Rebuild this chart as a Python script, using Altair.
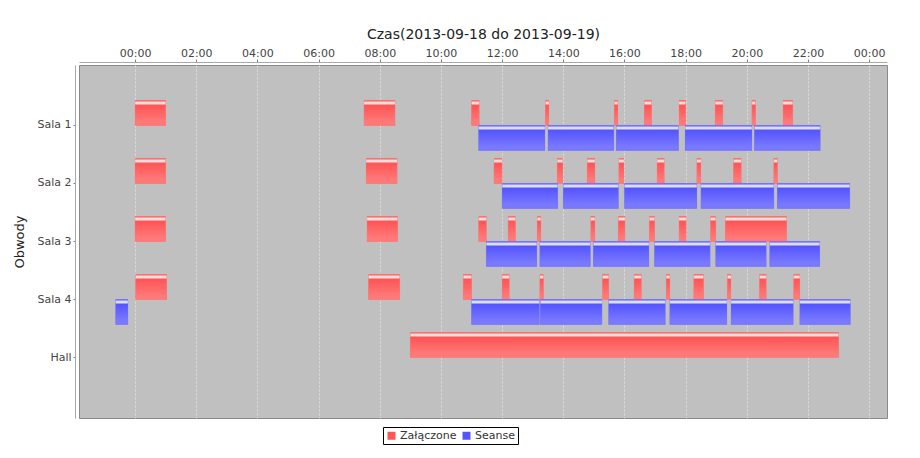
import altair as alt
import pandas as pd

categories = ["Sala 1", "Sala 2", "Sala 3", "Sala 4", "Hall"]
series_names = ["Załączone", "Seanse"]
series_colors = ["#FF5555", "#5555FF"]
tick_hours = [0, 2, 4, 6, 8, 10, 12, 14, 16, 18, 20, 22, 24]

sala1_on = [("00:00", "01:00"), ("07:29", "08:30"), ("11:00", "11:15"), ("13:25", "13:32"),
            ("15:40", "15:47"), ("16:39", "16:53"), ("17:47", "18:00"), ("18:58", "19:13"),
            ("20:10", "20:17"), ("21:11", "21:30")]
sala1_show = [("11:14", "13:24"), ("13:30", "15:39"), ("15:44", "17:46"), ("17:59", "20:10"),
              ("20:15", "22:24")]

sala2_on = [("00:00", "01:00"), ("07:33", "08:34"), ("11:44", "12:00"), ("13:48", "13:59"),
            ("14:47", "15:02"), ("15:49", "15:59"), ("17:04", "17:18"), ("18:22", "18:30"),
            ("19:34", "19:49"), ("20:53", "21:00")]
sala2_show = [("12:00", "13:49"), ("14:00", "15:48"), ("16:00", "18:22"), ("18:30", "20:53"),
              ("21:00", "23:22")]

sala3_on = [("00:00", "01:00"), ("07:35", "08:35"), ("11:14", "11:29"), ("12:12", "12:26"),
            ("13:09", "13:16"), ("14:54", "15:02"), ("15:48", "16:01"), ("16:49", "16:59"),
            ("17:47", "18:01"), ("18:49", "18:59"), ("19:18", "21:18")]
sala3_show = [("11:29", "13:08"), ("13:14", "14:53"), ("14:59", "16:48"), ("16:59", "18:48"),
              ("18:59", "20:38"), ("20:45", "22:23")]

sala4_on = [("00:01", "01:02"), ("07:38", "08:39"), ("10:44", "11:00"), ("12:00", "12:14"),
            ("13:14", "13:21"), ("15:17", "15:29"), ("16:19", "16:33"), ("17:22", "17:29"),
            ("18:16", "18:35"), ("19:22", "19:29"), ("20:25", "20:38"), ("21:32", "21:44")]
sala4_show = [("2013-09-17T23:22", "2013-09-17T23:46"), ("11:00", "13:13"), ("13:15", "15:16"),
              ("15:29", "17:20"), ("17:29", "19:21"), ("19:29", "21:31"), ("21:44", "23:23")]

hall_on = [("09:00", "23:00")]


def full(t):
    return t if "T" in t else "2013-09-18T" + t + ":00"


rows = []
for cat, ser, pairs in [
    ("Sala 1", "Załączone", sala1_on), ("Sala 1", "Seanse", sala1_show),
    ("Sala 2", "Załączone", sala2_on), ("Sala 2", "Seanse", sala2_show),
    ("Sala 3", "Załączone", sala3_on), ("Sala 3", "Seanse", sala3_show),
    ("Sala 4", "Załączone", sala4_on), ("Sala 4", "Seanse", sala4_show),
    ("Hall", "Załączone", hall_on),
]:
    for s, e in pairs:
        rows.append({"obwod": cat, "seria": ser, "start": full(s), "end": full(e)})
df = pd.DataFrame(rows)


def dt(day, h, m=0):
    return alt.DateTime(year=2013, month=9, date=day, hours=h, minutes=m)


tick_values = [dt(18 + h // 24, h % 24) for h in tick_hours]

x_enc = alt.X(
    "start:T",
    scale=alt.Scale(domain=[dt(17, 22, 10), dt(19, 0, 35)], nice=False),
    axis=alt.Axis(
        orient="top", format="%H:%M", values=tick_values,
        title="Czas(2013-09-18 do 2013-09-19)", titleFontSize=14, titleFontWeight="normal",
        titleColor="#222222", titlePadding=6,
        labelFontSize=11, labelColor="#444444", labelPadding=1,
        offset=3, domainColor="#a8a8a8", domainWidth=1, tickColor="#808080", tickSize=3,
        grid=True, gridColor="#dedede", gridDash=[2, 2], gridWidth=1,
    ),
)
x2_enc = alt.X2("end:T")
y_enc = alt.Y(
    "obwod:N", sort=categories,
    scale=alt.Scale(domain=categories, paddingInner=0.138, paddingOuter=0.612),
    axis=alt.Axis(
        title="Obwody", titleFontSize=13, titleFontWeight="normal", titleColor="#222222",
        titlePadding=10, labelFontSize=11, labelColor="#444444", labelPadding=2,
        offset=4, domainColor="#a8a8a8", domainWidth=1, tickColor="#808080", tickSize=2,
        grid=False,
    ),
)
yoff_enc = alt.YOffset("seria:N", sort=series_names,
                       scale=alt.Scale(domain=series_names, paddingInner=0, paddingOuter=0))


def grad(c0, c1):
    return alt.LinearGradient(
        gradient="linear", x1=0, y1=0, x2=0, y2=1,
        stops=[
            alt.GradientStop(color=c0, offset=0),
            alt.GradientStop(color="#ffffff", offset=0.1),
            alt.GradientStop(color=c0, offset=0.2),
            alt.GradientStop(color=c1, offset=0.85),
            alt.GradientStop(color=c1, offset=1),
        ],
    )


base = alt.Chart(df)

legend_layer = base.mark_bar().encode(
    x=x_enc, x2=x2_enc, y=y_enc, yOffset=yoff_enc,
    color=alt.Color(
        "seria:N", sort=series_names,
        scale=alt.Scale(domain=series_names, range=series_colors),
        legend=alt.Legend(
            title=None, orient="none", legendX=304, legendY=362, direction="horizontal",
            columns=2, strokeColor="black", fillColor="white", padding=3,
            symbolType="square", symbolSize=64, symbolStrokeWidth=0,
            labelFontSize=11, labelColor="#333333", labelFont="DejaVu Sans",
            labelOffset=3, columnPadding=4,
        ),
    ),
)

red_layer = base.transform_filter(alt.datum.seria == "Załączone").mark_bar(
    color=grad("#FF5555", "#FF7979"), stroke="#ff8080", strokeWidth=0.5, strokeOpacity=0.6
).encode(x=x_enc, x2=x2_enc, y=y_enc, yOffset=yoff_enc)

blue_layer = base.transform_filter(alt.datum.seria == "Seanse").mark_bar(
    color=grad("#5555FF", "#7979FF"), stroke="#8080ff", strokeWidth=0.5, strokeOpacity=0.6
).encode(x=x_enc, x2=x2_enc, y=y_enc, yOffset=yoff_enc)

chart = alt.layer(legend_layer, red_layer, blue_layer).properties(
    width=808, height=353,
    autosize=alt.AutoSizeParams(type="none"),
    padding={"left": 79, "top": 65, "right": 33, "bottom": 40},
    background="white",
).configure(font="DejaVu Sans").configure_view(
    fill="#C0C0C0", stroke="#8a8a8a", strokeWidth=1
)

chart.save("out.html", embed_options={"renderer": "svg", "actions": False})
